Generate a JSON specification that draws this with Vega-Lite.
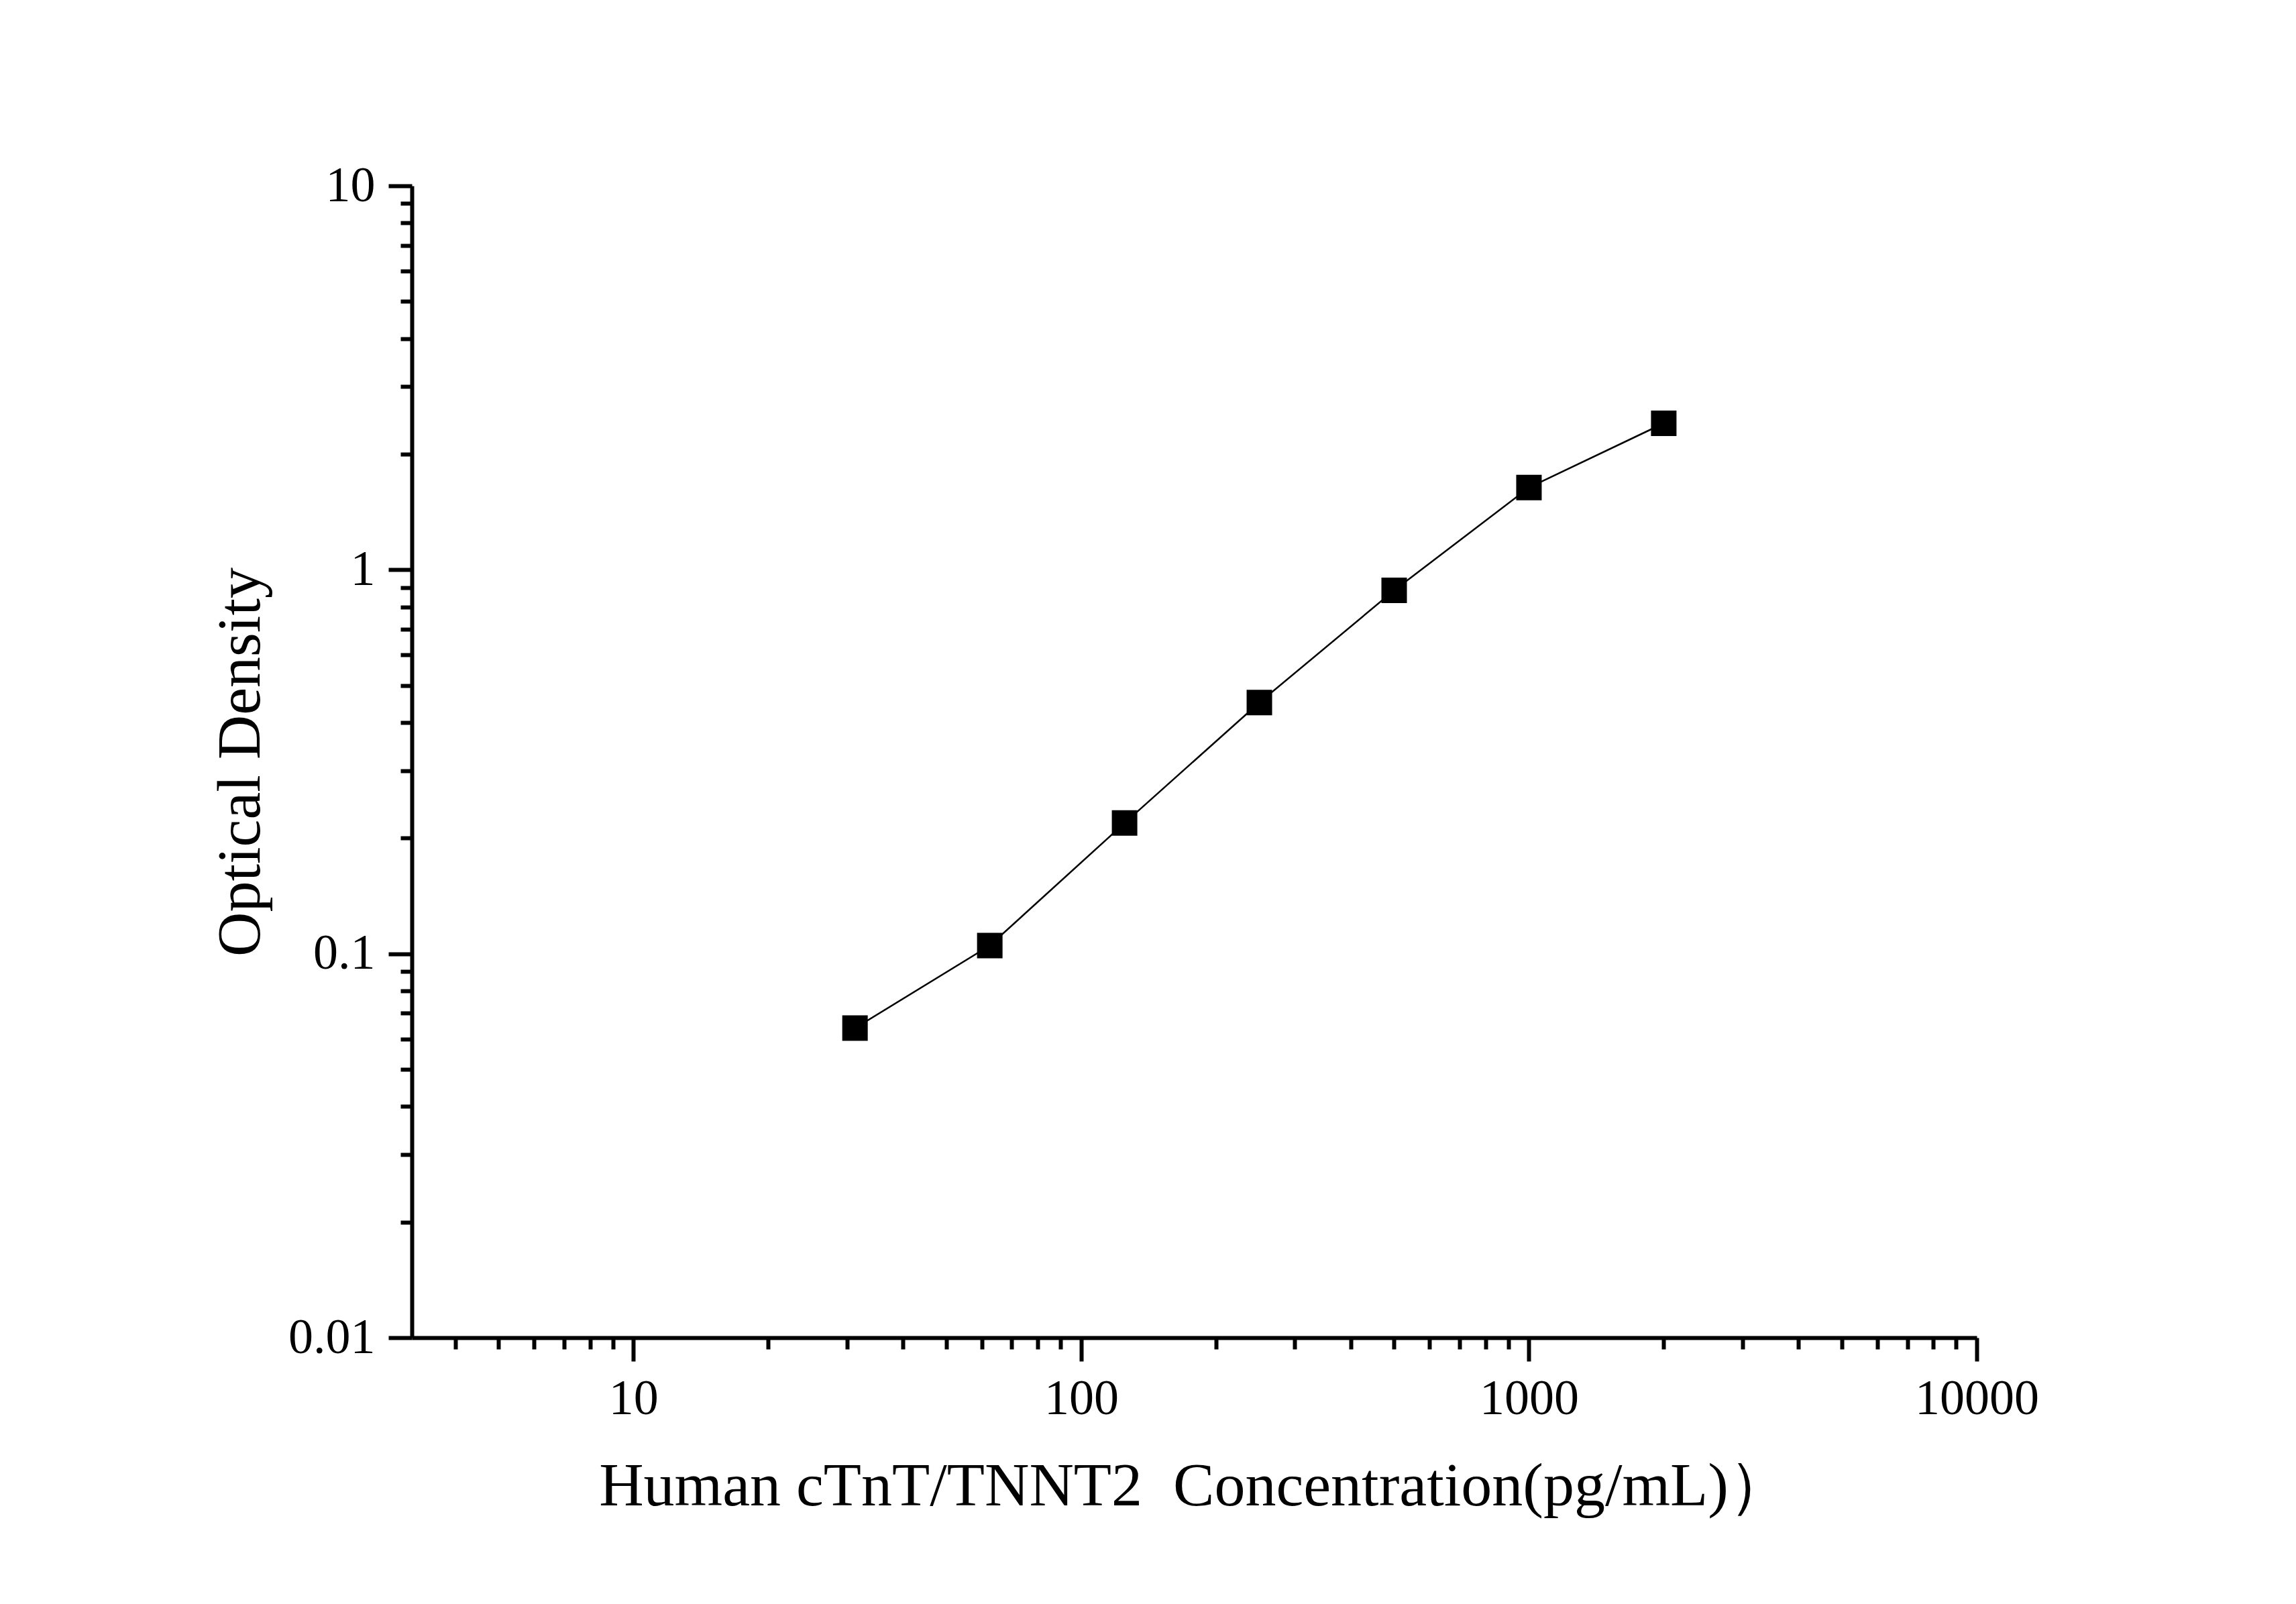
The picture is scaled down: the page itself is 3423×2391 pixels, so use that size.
{
  "$schema": "https://vega.github.io/schema/vega-lite/v6.json",
  "width": 2333,
  "height": 1717,
  "autosize": "none",
  "padding": {"left": 614, "top": 277, "right": 476, "bottom": 397},
  "background": "white",
  "data": {
    "values": [
      {"conc": 31.25, "od": 0.064},
      {"conc": 62.5, "od": 0.105},
      {"conc": 125, "od": 0.219},
      {"conc": 250, "od": 0.451},
      {"conc": 500, "od": 0.884},
      {"conc": 1000, "od": 1.637},
      {"conc": 2000, "od": 2.407}
    ]
  },
  "encoding": {
    "x": {
      "field": "conc",
      "type": "quantitative",
      "title": "Human cTnT/TNNT2 \u00a0Concentration(pg/mL)）",
      "scale": {"type": "log", "domain": [3.2, 10000], "nice": false},
      "axis": {
        "values": [4, 5, 6, 7, 8, 9, 10, 20, 30, 40, 50, 60, 70, 80, 90, 100, 200, 300, 400, 500, 600, 700, 800, 900, 1000, 2000, 3000, 4000, 5000, 6000, 7000, 8000, 9000, 10000],
        "labelExpr": "indexof([10, 100, 1000, 10000], datum.value) >= 0 ? format(datum.value, '~g') : ''",
        "tickSize": {"condition": {"test": "indexof([10, 100, 1000, 10000], datum.value) >= 0", "value": 35}, "value": 17},
        "labelPadding": 20,
        "titlePadding": 48,
        "grid": false
      }
    },
    "y": {
      "field": "od",
      "type": "quantitative",
      "title": "Optical Density",
      "scale": {"type": "log", "domain": [0.01, 10], "nice": false},
      "axis": {
        "values": [0.01, 0.02, 0.03, 0.04, 0.05, 0.06, 0.07, 0.08, 0.09, 0.1, 0.2, 0.3, 0.4, 0.5, 0.6, 0.7, 0.8, 0.9, 1, 2, 3, 4, 5, 6, 7, 8, 9, 10],
        "labelExpr": "indexof([0.01, 0.1, 1, 10], datum.value) >= 0 ? format(datum.value, '~g') : ''",
        "tickSize": {"condition": {"test": "indexof([0.01, 0.1, 1, 10], datum.value) >= 0", "value": 35}, "value": 17},
        "labelPadding": 20,
        "titlePadding": 24,
        "grid": false
      }
    }
  },
  "layer": [
    {
      "mark": {"type": "line", "color": "black", "strokeWidth": 2.5}
    },
    {
      "mark": {"type": "point", "shape": "square", "filled": true, "color": "black", "opacity": 1, "size": 1444}
    }
  ],
  "config": {
    "view": {"stroke": null},
    "axis": {
      "domainColor": "black",
      "domainWidth": 6,
      "tickColor": "black",
      "tickWidth": 6,
      "labelFont": "Liberation Serif",
      "labelFontSize": 74,
      "labelColor": "black",
      "labelFlush": false,
      "labelOverlap": false,
      "labelLimit": 0,
      "titleFont": "Liberation Serif",
      "titleFontSize": 92,
      "titleFontWeight": "normal",
      "titleColor": "black",
      "titleLimit": 0
    }
  }
}
